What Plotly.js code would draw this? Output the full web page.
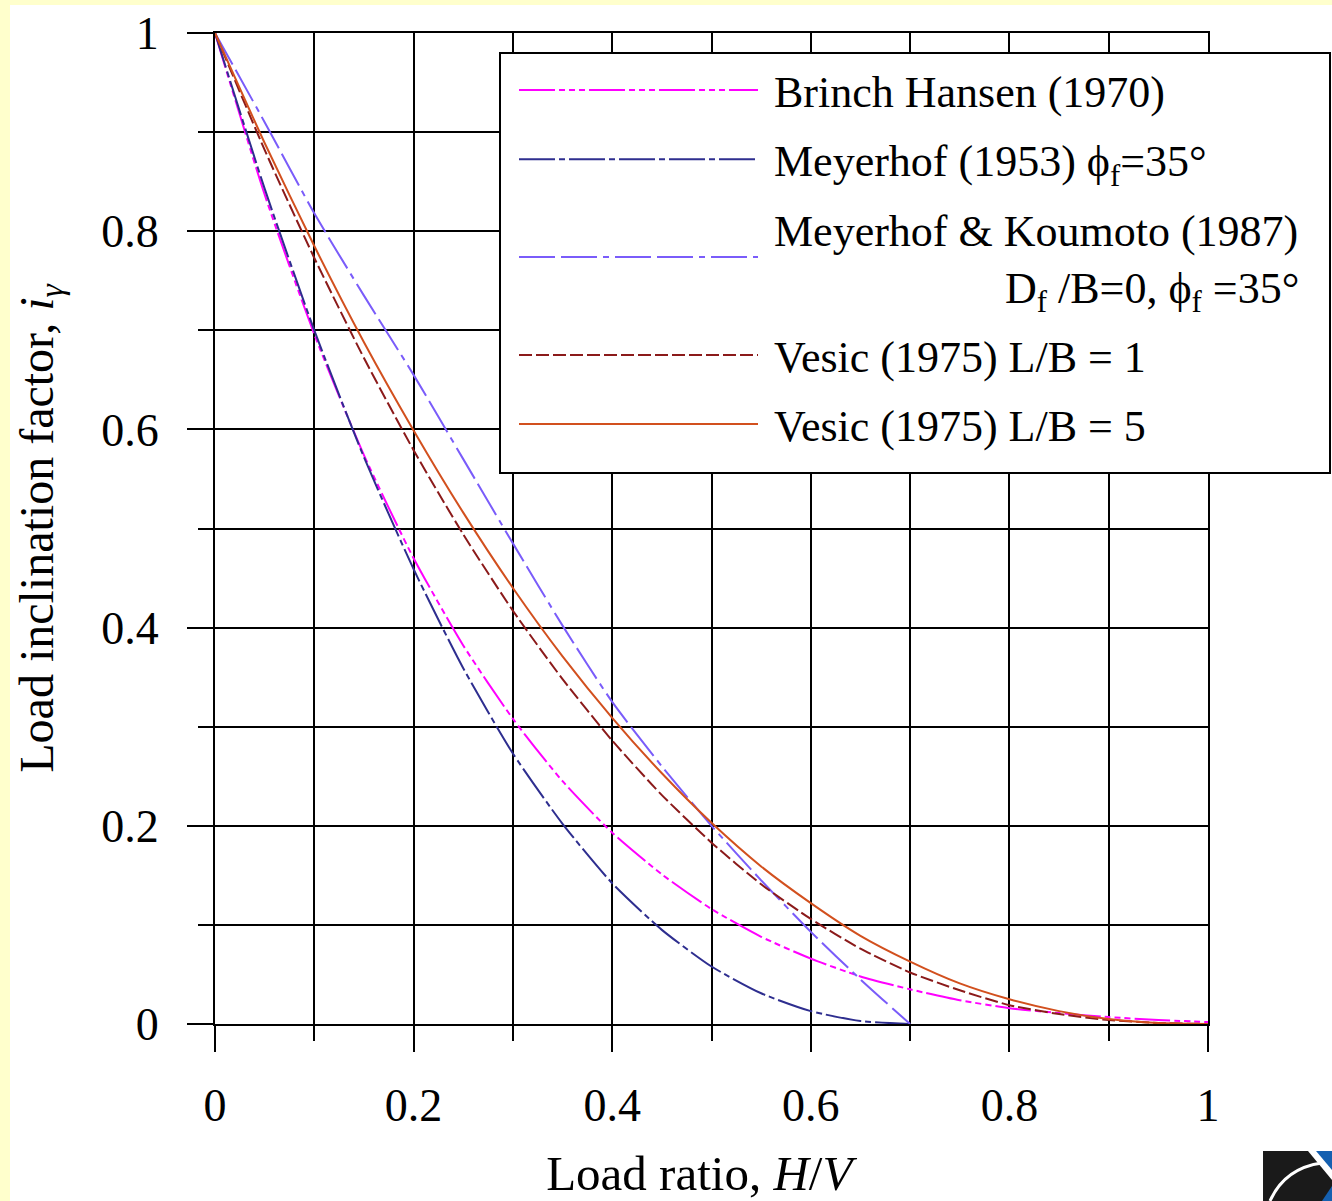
<!DOCTYPE html>
<html>
<head>
<meta charset="utf-8">
<script src="https://cdn.plot.ly/plotly-3.0.1.min.js"></script>
<style>
  html, body { margin: 0; padding: 0; background: #FFFFCC; width: 1332px; height: 1201px; overflow: hidden; }
  #chart { position: absolute; left: 10px; top: 5px; width: 1322px; height: 1196px; }
</style>
</head>
<body>
<div id="chart"></div>
<script>
// ---- Data ----
const loadRatio = [0, 0.05, 0.1, 0.15, 0.2, 0.25, 0.3, 0.35, 0.4, 0.45, 0.5, 0.55, 0.6, 0.65, 0.7, 0.75, 0.8, 0.85, 0.9, 0.95, 1.0];
const loadRatioMeyerhof = [0, 0.05, 0.1, 0.15, 0.2, 0.25, 0.3, 0.35, 0.4, 0.45, 0.5, 0.55, 0.6, 0.65, 0.7];

const brinchHansen = [1, 0.837, 0.696, 0.574, 0.470, 0.382, 0.308, 0.245, 0.193, 0.151, 0.116, 0.088, 0.066, 0.048, 0.035, 0.024, 0.016, 0.011, 0.007, 0.004, 0.002];
const meyerhof1953 = [1, 0.843, 0.700, 0.572, 0.459, 0.359, 0.273, 0.202, 0.142, 0.095, 0.058, 0.031, 0.013, 0.003, 0];
const meyerhofKoumoto = [1, 0.910, 0.818, 0.735, 0.655, 0.570, 0.485, 0.402, 0.325, 0.260, 0.200, 0.145, 0.093, 0.045, 0];
const vesicLB1 = [1, 0.882, 0.773, 0.672, 0.579, 0.494, 0.417, 0.348, 0.286, 0.231, 0.183, 0.141, 0.106, 0.076, 0.052, 0.034, 0.019, 0.010, 0.004, 0.001, 0];
const vesicLB5 = [1, 0.889, 0.785, 0.688, 0.599, 0.516, 0.440, 0.371, 0.309, 0.253, 0.203, 0.159, 0.122, 0.089, 0.063, 0.041, 0.025, 0.013, 0.005, 0.001, 0];

const NB = '\u00A0';
const seriesNames = [
  NB + 'Brinch Hansen (1970)',
  NB + 'Meyerhof (1953) ϕ<sub>f</sub>=35°',
  NB + 'Meyerhof &amp; Koumoto (1987)<br>' + NB.repeat(22) + 'D<sub>f</sub> /B=0, ϕ<sub>f</sub> =35°',
  NB + 'Vesic (1975) L/B = 1',
  NB + 'Vesic (1975) L/B = 5'
];

const majorTickVals = [0, 0.2, 0.4, 0.6, 0.8, 1];
const majorTickText = ['0', '0.2', '0.4', '0.6', '0.8', '1'];
const minorTickVals = [0.1, 0.3, 0.5, 0.7, 0.9];

const xTitle = 'Load ratio, <i>H</i>/<i>V</i>' + NB + '<span style="color:rgba(0,0,0,0)">.</span>';
const yTitle = 'Load inclination factor, <i>i</i><sub><i>γ</i></sub>';

// ---- Styles ----
const FONT = 'Liberation Serif, Times New Roman, serif';

function mk(x, y, name, color, dash, group) {
  return {
    type: 'scatter', mode: 'lines', x: x, y: y, name: name,
    legendgroup: group,
    line: { color: color, width: 2, dash: dash, shape: 'spline', smoothing: 0.6 },
    hoverinfo: 'skip'
  };
}

const traces = [
  mk(loadRatio, brinchHansen, seriesNames[0], '#FF00FF', '36px,4px,6px,4px,6px,4px,6px,4px', 'g1'),
  mk(loadRatioMeyerhof, meyerhof1953, seriesNames[1], '#2E2E8F', '36px,4px,6px,4px', 'g2'),
  mk(loadRatioMeyerhof, meyerhofKoumoto, seriesNames[2], '#7A5CFA', '36px,6px,36px,6px,6px,6px', 'g3'),
  mk(loadRatio, vesicLB1, seriesNames[3], '#8B1A1A', '13px,4px', 'g4'),
  mk(loadRatio, vesicLB5, seriesNames[4], '#D2501E', 'solid', 'g5')
];

function axis(title, titleSize, standoff, labelStandoff) {
  return {
    range: [0, 1],
    fixedrange: true,
    tickmode: 'array',
    tickvals: majorTickVals,
    ticktext: majorTickText,
    ticks: 'outside',
    ticklen: 26,
    tickwidth: 2,
    tickcolor: '#000',
    ticklabelstandoff: labelStandoff,
    showgrid: true,
    gridcolor: '#000',
    gridwidth: 2,
    zeroline: false,
    showline: true,
    linecolor: '#000',
    linewidth: 2,
    mirror: true,
    tickfont: { family: FONT, size: 46, color: '#000' },
    minor: {
      tickmode: 'array',
      tickvals: minorTickVals,
      ticks: 'outside',
      ticklen: 15,
      tickwidth: 2,
      tickcolor: '#000',
      showgrid: true,
      gridcolor: '#000',
      gridwidth: 2
    },
    title: { text: title, font: { family: FONT, size: titleSize, color: '#000' }, standoff: standoff }
  };
}

// pixel -> paper helpers for decorations (legend frame, corner logo)
const PL = 215, PR = 1208, PT = 33, PB = 1024;
function px(x) { return (x - PL) / (PR - PL); }
function py(y) { return (PB - y) / (PB - PT); }
function path(pts) { return 'M' + pts.map(p => px(p[0]).toFixed(4) + ',' + py(p[1]).toFixed(4)).join('L') + 'Z'; }

const layout = {
  width: 1322,
  height: 1196,
  margin: { l: 205, r: 124, t: 28, b: 177, autoexpand: false },
  paper_bgcolor: '#FFFFFF',
  plot_bgcolor: '#FFFFFF',
  font: { family: FONT, color: '#000' },
  showlegend: true,
  legend: {
    x: px(514), y: py(55), xanchor: 'left', yanchor: 'top',
    bgcolor: 'rgba(0,0,0,0)', borderwidth: 0,
    font: { family: FONT, size: 44, color: '#000' },
    itemwidth: 239,
    tracegroupgap: 9,
    traceorder: 'grouped'
  },
  xaxis: axis(xTitle, 49, 26, 14),
  yaxis: axis(yTitle, 48, 36, 19),
  shapes: [
    { type: 'rect', xref: 'paper', yref: 'paper', layer: 'above',
      x0: px(500), x1: px(1330), y0: py(473), y1: py(53),
      line: { color: '#000', width: 2 }, fillcolor: '#FFFFFF' },
    { type: 'path', xref: 'paper', yref: 'paper', layer: 'above', line: { width: 0 }, fillcolor: '#1A1A1A',
      path: path([[1263, 1151], [1308, 1151], [1332, 1180], [1332, 1201], [1263, 1201]]) },
    { type: 'path', xref: 'paper', yref: 'paper', layer: 'above', line: { width: 0 }, fillcolor: '#1560B0',
      path: path([[1316, 1151], [1332, 1151], [1332, 1170]]) },
    { type: 'path', xref: 'paper', yref: 'paper', layer: 'above', line: { width: 0 }, fillcolor: '#1560B0',
      path: path([[1322, 1201], [1332, 1186], [1332, 1201]]) },
    { type: 'path', xref: 'paper', yref: 'paper', layer: 'above', line: { color: '#FFFFFF', width: 3 }, fillcolor: 'rgba(0,0,0,0)',
      path: 'M' + px(1270).toFixed(4) + ',' + py(1201).toFixed(4) + ' Q' + px(1285).toFixed(4) + ',' + py(1168).toFixed(4) + ' ' + px(1322).toFixed(4) + ',' + py(1163).toFixed(4) }
  ]
};

Plotly.newPlot('chart', traces, layout, { displayModeBar: false, staticPlot: true });
</script>
</body>
</html>
